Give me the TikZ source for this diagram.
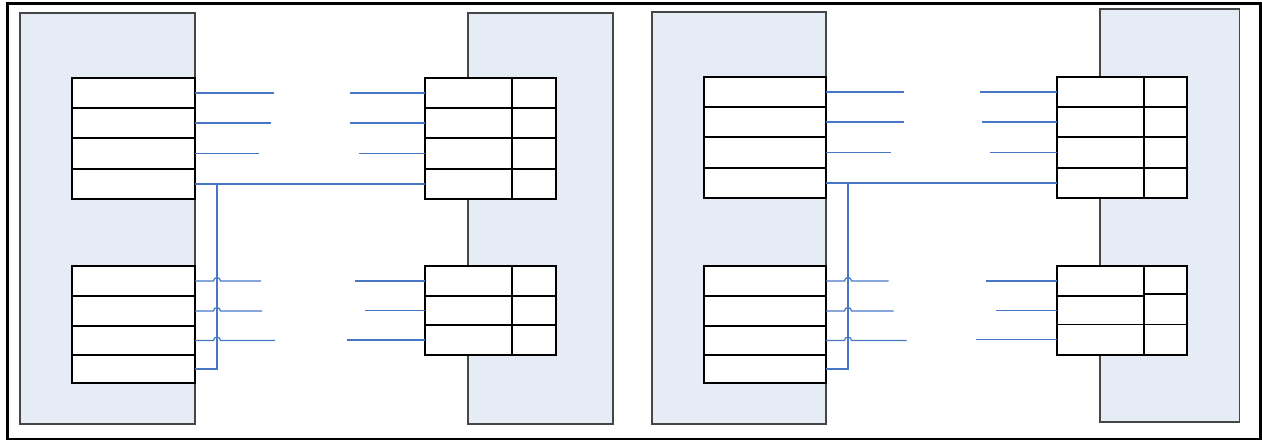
\documentclass[tikz,border=0pt]{standalone}
\usetikzlibrary{calc}
\definecolor{panelfill}{RGB}{230,236,246}
\definecolor{panelline}{RGB}{70,70,70}
\definecolor{wire}{RGB}{70,118,196}
\tikzset{
  panel/.style={draw=panelline, fill=panelfill, line width=1.1pt, inner sep=0pt, outer sep=0pt, anchor=north west},
  cell/.style={draw=black, fill=white, line width=1.1pt, inner sep=0pt, outer sep=0pt, anchor=north west},
  wireline/.style={draw=wire, line width=1.2pt},
  frame/.style={draw=black, line width=2.5pt}
}
\newcommand{\boxat}[6]{% name, style, x, y, w, h
  \node[#2, minimum width=#5pt, minimum height=#6pt] (#1) at (#3,#4) {};}
\begin{document}
\begin{tikzpicture}[x=1pt,y=-1pt]
\useasboundingbox (0,0) rectangle (1262,441);
\node[frame, minimum width=1253pt, minimum height=435pt, inner sep=0pt, anchor=north west] (outer) at (6,2.5) {};

% ===== Left diagram =====
\boxat{LPa}{panel}{20}{13}{175}{411}
\boxat{RPa}{panel}{468}{13}{145}{411}
% top-left stack
\boxat{a1}{cell}{72}{78}{123}{30}
\boxat{a2}{cell}{72}{108}{123}{30}
\boxat{a3}{cell}{72}{138}{123}{31}
\boxat{a4}{cell}{72}{169}{123}{30}
% bottom-left stack
\boxat{b1}{cell}{72}{266}{123}{30}
\boxat{b2}{cell}{72}{296}{123}{30}
\boxat{b3}{cell}{72}{326}{123}{29}
\boxat{b4}{cell}{72}{355}{123}{28}
% top-right table
\boxat{t1}{cell}{425}{78}{87}{30}\boxat{t1r}{cell}{512}{78}{44}{30}
\boxat{t2}{cell}{425}{108}{87}{30}\boxat{t2r}{cell}{512}{108}{44}{30}
\boxat{t3}{cell}{425}{138}{87}{31}\boxat{t3r}{cell}{512}{138}{44}{31}
\boxat{t4}{cell}{425}{169}{87}{30}\boxat{t4r}{cell}{512}{169}{44}{30}
% bottom-right table
\boxat{u1}{cell}{425}{266}{87}{30}\boxat{u1r}{cell}{512}{266}{44}{30}
\boxat{u2}{cell}{425}{296}{87}{29}\boxat{u2r}{cell}{512}{296}{44}{29}
\boxat{u3}{cell}{425}{325}{87}{30}\boxat{u3r}{cell}{512}{325}{44}{30}

% wires
\draw[wireline] (a1.east) -- ++(79,0);
\draw[wireline] (a2.east) -- ++(76,0);
\draw[wireline] (a3.east) -- ++(64,0);
\draw[wireline] (t1.west) -- ++(-75,0);
\draw[wireline] (t2.west) -- ++(-75,0);
\draw[wireline] (t3.west) -- ++(-66,0);
\draw[wireline] (a4.east) -- (t4.west);
\draw[wireline] (b4.east) -- ++(22,0) |- (a4.east);
\draw[wireline] (b1.east) -- ++(18.5,0) arc[start angle=180,end angle=0,radius=3.5pt] -- ++(40.5,0);
\draw[wireline] (b2.east) -- ++(18.5,0) arc[start angle=180,end angle=0,radius=3.5pt] -- ++(41.5,0);
\draw[wireline] (b3.east) -- ++(18.5,0) arc[start angle=180,end angle=0,radius=3.5pt] -- ++(54.5,0);
\draw[wireline] (u1.west) -- ++(-70,0);
\draw[wireline] (u2.west) -- ++(-60,0);
\draw[wireline] (u3.west) -- ++(-78,0);

% ===== Right diagram =====
\boxat{LPb}{panel}{652}{12}{174}{412}
\boxat{RPb}{panel}{1100}{9}{139.5}{413}
% top-left stack
\boxat{c1}{cell}{704}{77}{122}{30}
\boxat{c2}{cell}{704}{107}{122}{30}
\boxat{c3}{cell}{704}{137}{122}{31}
\boxat{c4}{cell}{704}{168}{122}{30}
% bottom-left stack
\boxat{d1}{cell}{704}{266}{122}{30}
\boxat{d2}{cell}{704}{296}{122}{30}
\boxat{d3}{cell}{704}{326}{122}{29}
\boxat{d4}{cell}{704}{355}{122}{28}
% top-right table
\boxat{v1}{cell}{1057}{77}{87}{30}\boxat{v1r}{cell}{1144}{77}{43}{30}
\boxat{v2}{cell}{1057}{107}{87}{30}\boxat{v2r}{cell}{1144}{107}{43}{30}
\boxat{v3}{cell}{1057}{137}{87}{31}\boxat{v3r}{cell}{1144}{137}{43}{31}
\boxat{v4}{cell}{1057}{168}{87}{30}\boxat{v4r}{cell}{1144}{168}{43}{30}
% bottom-right table
\boxat{w1}{cell}{1057}{266}{87}{30}\boxat{w1r}{cell}{1144}{266}{43}{28}
\boxat{w2}{cell}{1057}{296}{87}{28.5}\boxat{w2r}{cell}{1144}{294}{43}{30.5}
\boxat{w3}{cell}{1057}{324.5}{87}{30.5}\boxat{w3r}{cell}{1144}{324.5}{43}{30.5}

% wires
\draw[wireline] (c1.east) -- ++(78,0);
\draw[wireline] (c2.east) -- ++(78,0);
\draw[wireline] (c3.east) -- ++(65,0);
\draw[wireline] (v1.west) -- ++(-77,0);
\draw[wireline] (v2.west) -- ++(-75,0);
\draw[wireline] (v3.west) -- ++(-67,0);
\draw[wireline] (c4.east) -- (v4.west);
\draw[wireline] (d4.east) -- ++(22,0) |- (c4.east);
\draw[wireline] (d1.east) -- ++(18.5,0) arc[start angle=180,end angle=0,radius=3.5pt] -- ++(37,0);
\draw[wireline] (d2.east) -- ++(18.5,0) arc[start angle=180,end angle=0,radius=3.5pt] -- ++(42,0);
\draw[wireline] (d3.east) -- ++(18.5,0) arc[start angle=180,end angle=0,radius=3.5pt] -- ++(55,0);
\draw[wireline] (w1.west) -- ++(-71,0);
\draw[wireline] (w2.west) -- ++(-61,0);
\draw[wireline] (w3.west) -- ++(-81,0);
\end{tikzpicture}
\end{document}
